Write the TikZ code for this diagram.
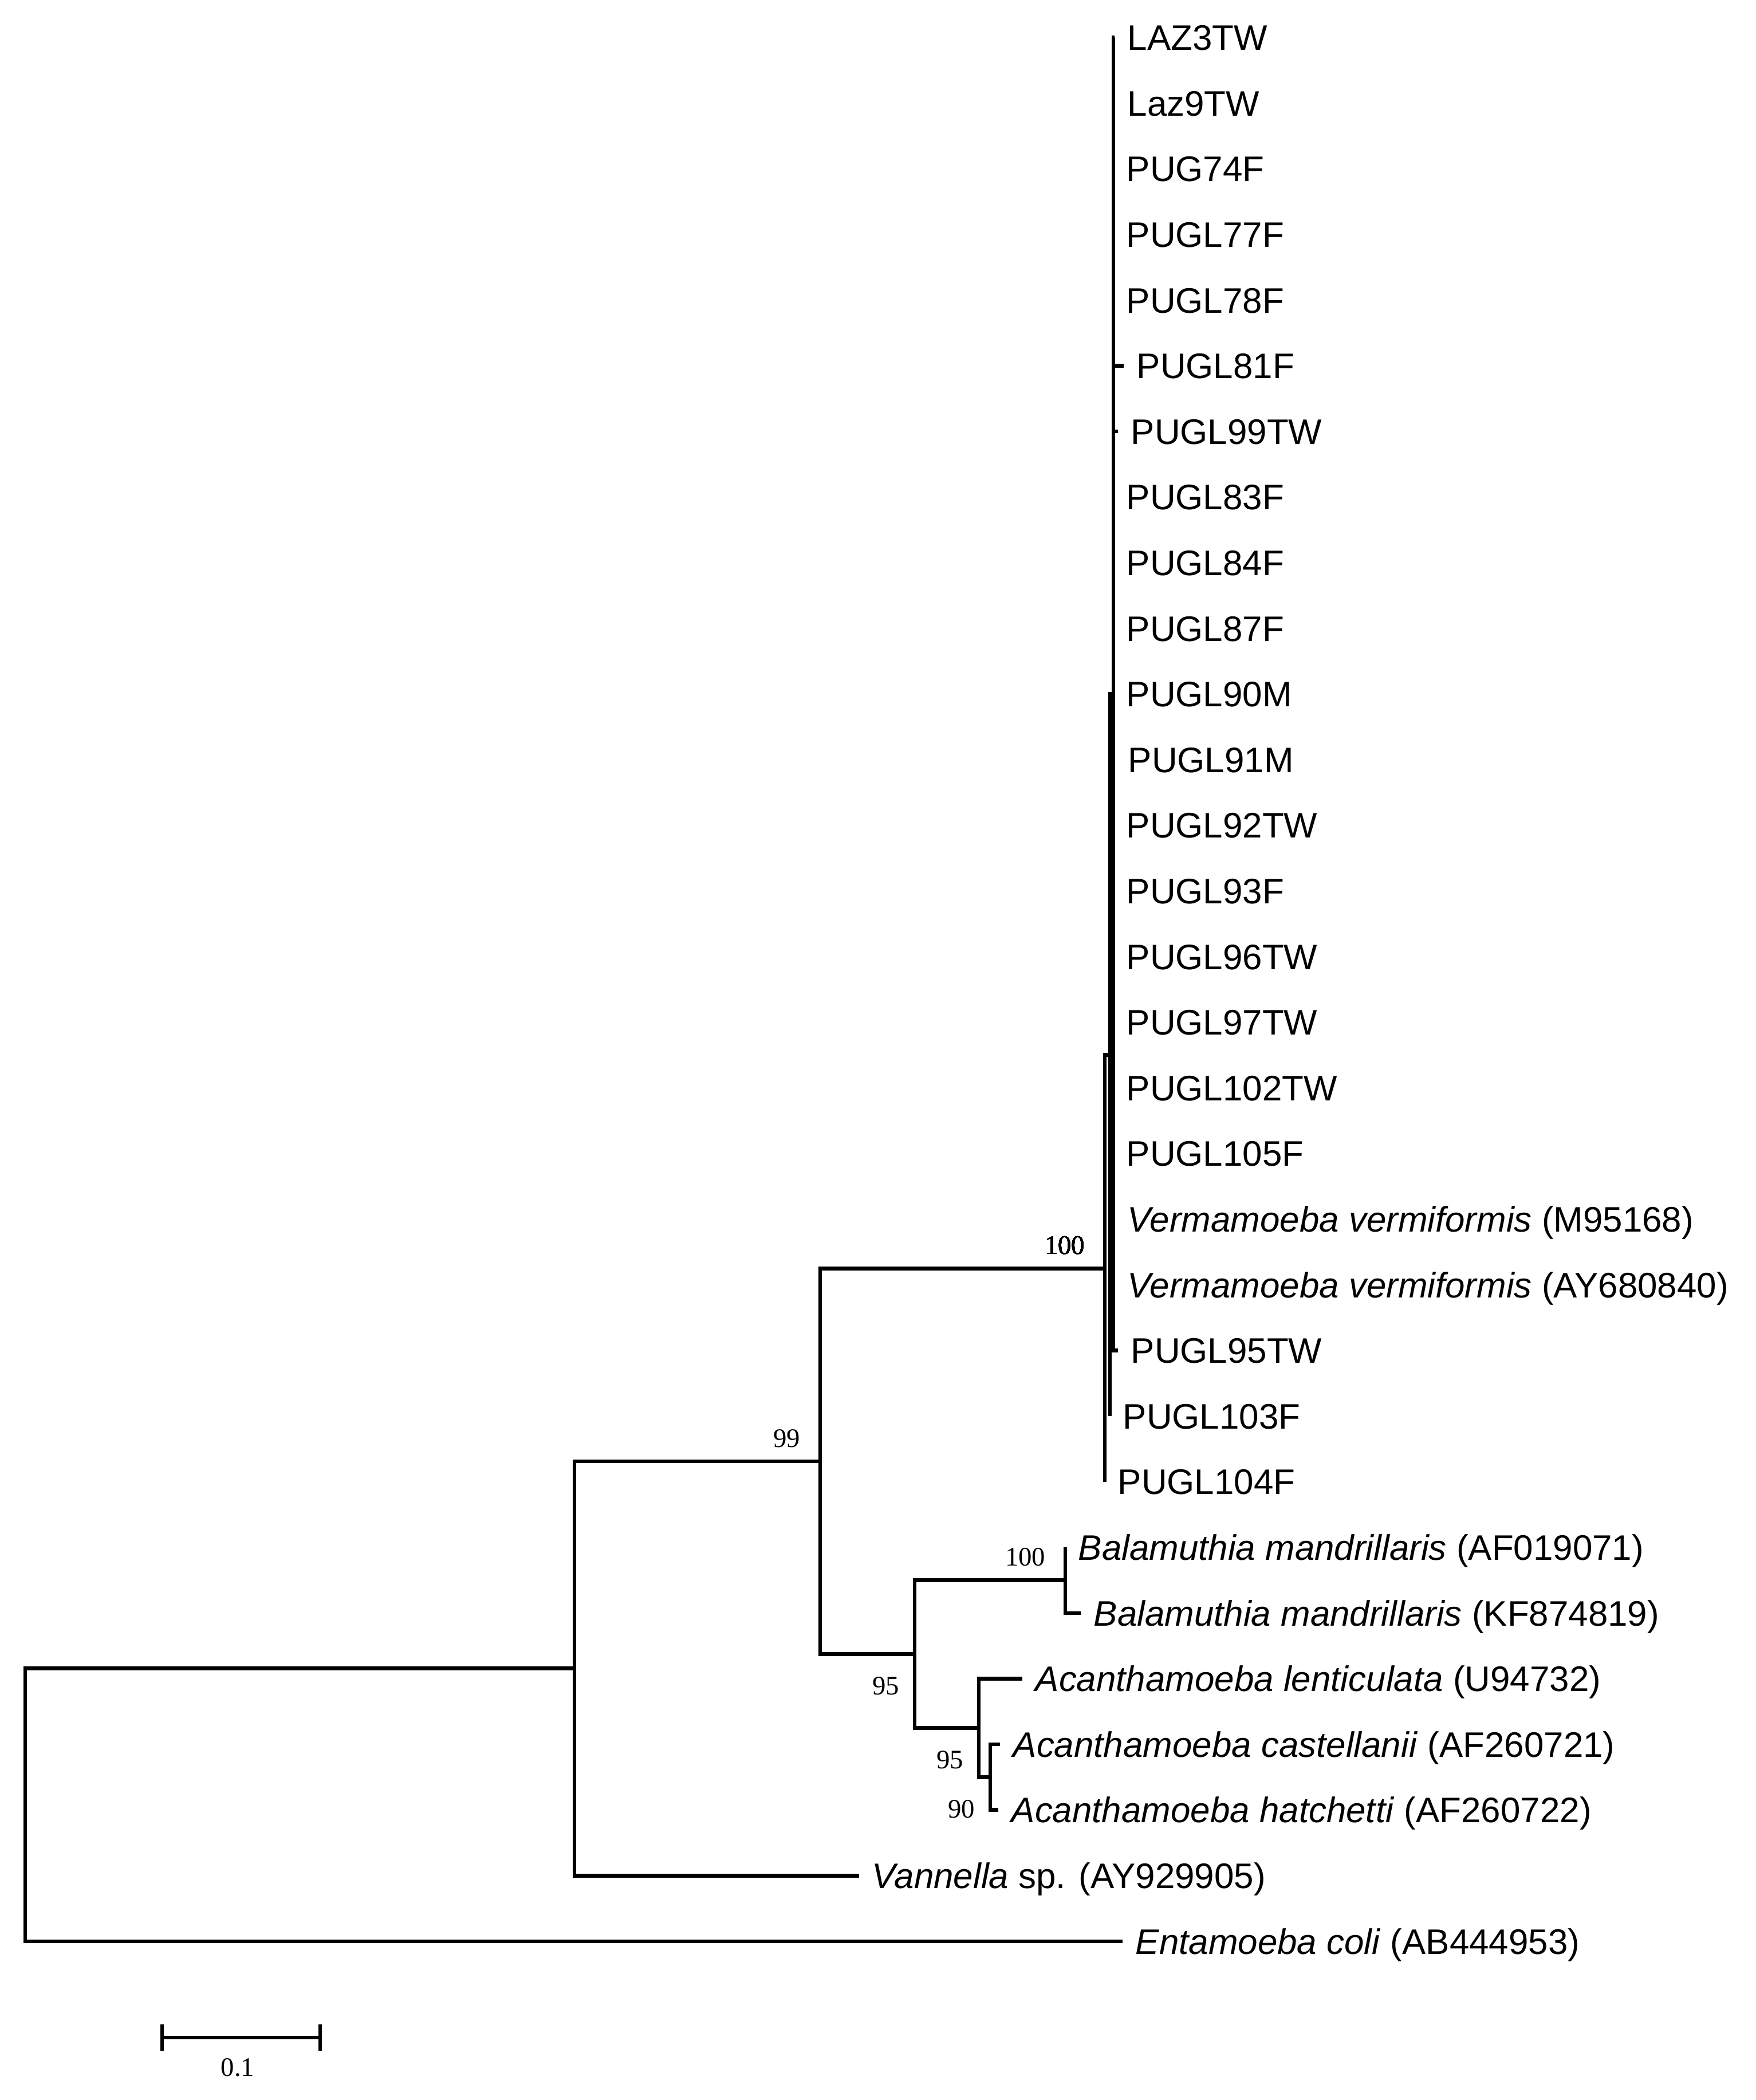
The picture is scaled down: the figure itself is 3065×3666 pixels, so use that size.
\documentclass[tikz,border=0pt]{standalone}
\usepackage{fontspec}
\setmainfont{Liberation Sans}
\newfontfamily\bsfont{Liberation Serif}
\usepackage{tikz}
\tikzset{
  br/.style={line width=1.9pt},
  taxon/.style={anchor=west, inner sep=0pt, xshift=0.22cm, text height=12.6pt, text depth=0pt, font=\fontsize{17.6pt}{21pt}\selectfont},
  bsup/.style={anchor=east, inner sep=0pt, xshift=-0.34cm, yshift=0.40cm, text height=8.6pt, text depth=0pt, font=\bsfont\fontsize{13.3pt}{15pt}\selectfont},
  bsdown/.style={anchor=east, inner sep=0pt, xshift=-0.26cm, yshift=-0.56cm, text height=8.6pt, text depth=0pt, font=\bsfont\fontsize{13.3pt}{15pt}\selectfont}
}
\newcommand{\leaf}[4]{\coordinate (#1) at (#2,{65.5+114.6*#3}); \node[taxon] (#1txt) at (#1) {#4};}
\newcommand{\clade}[2]{\draw[br] (#1) |- (#2);}

\begin{document}
\begin{tikzpicture}[x=0.01cm, y=-0.01cm]
        \useasboundingbox (0,0) rectangle (3065,3666);
        % inner nodes
        \coordinate (nC) at (1944,1211.5);
        \coordinate (nB) at (1938,1841.8);
        \coordinate (nA) at (1929,2214.25);
        \coordinate (nBal) at (1860,2758.6);
        \coordinate (n90) at (1729,3102.4);
        \coordinate (nAC) at (1709,3016.45);
        \coordinate (n95) at (1597,2887.5);
        \coordinate (n99) at (1432,2550.9);
        \coordinate (nV) at (1003,2912.6);
        \coordinate (root) at (44,3150.75);
        % isolates
        \leaf{laz3}{1946}{0}{LAZ3TW}
        \leaf{laz9}{1946}{1}{Laz9TW}
        \leaf{pug74}{1944}{2}{PUG74F}
        \leaf{pugl77}{1944}{3}{PUGL77F}
        \leaf{pugl78}{1944}{4}{PUGL78F}
        \leaf{pugl81}{1962}{5}{PUGL81F}
        \leaf{pugl99}{1952}{6}{PUGL99TW}
        \leaf{pugl83}{1944}{7}{PUGL83F}
        \leaf{pugl84}{1944}{8}{PUGL84F}
        \leaf{pugl87}{1944}{9}{PUGL87F}
        \leaf{pugl90}{1944}{10}{PUGL90M}
        \leaf{pugl91}{1947}{11}{PUGL91M}
        \leaf{pugl92}{1944}{12}{PUGL92TW}
        \leaf{pugl93}{1944}{13}{PUGL93F}
        \leaf{pugl96}{1944}{14}{PUGL96TW}
        \leaf{pugl97}{1944}{15}{PUGL97TW}
        \leaf{pugl102}{1944}{16}{PUGL102TW}
        \leaf{pugl105}{1944}{17}{PUGL105F}
        \leaf{vvM}{1946}{18}{\textit{Vermamoeba vermiformis} (M95168)}
        \leaf{vvAY}{1946}{19}{\textit{Vermamoeba vermiformis} (AY680840)}
        \leaf{pugl95}{1952}{20}{PUGL95TW}
        \leaf{pugl103}{1938}{21}{PUGL103F}
        \leaf{pugl104}{1929}{22}{PUGL104F}
        % references
        \leaf{bmAF}{1860}{23}{\textit{Balamuthia mandrillaris} (AF019071)}
        \leaf{bmKF}{1887}{24}{\textit{Balamuthia mandrillaris} (KF874819)}
        \leaf{alen}{1785}{25}{\textit{Acanthamoeba lenticulata} (U94732)}
        \leaf{acas}{1746}{26}{\textit{Acanthamoeba castellanii} (AF260721)}
        \leaf{ahat}{1743}{27}{\textit{Acanthamoeba hatchetti} (AF260722)}
        \leaf{van}{1500}{28}{\textit{Vannella} sp. (AY929905)}
        \leaf{ecoli}{1960}{29}{\textit{Entamoeba coli} (AB444953)}
        % branches
        \foreach \t in {laz3,laz9,pug74,pugl77,pugl78,pugl81,pugl99,pugl83,pugl84,pugl87,pugl90,pugl91,pugl92,pugl93,pugl96,pugl97,pugl102,pugl105,vvM,vvAY,pugl95}
          \clade{nC}{\t}
        \clade{nB}{nC} \clade{nB}{pugl103}
        \clade{nA}{nB} \clade{nA}{pugl104}
        \clade{nBal}{bmAF} \clade{nBal}{bmKF}
        \clade{n90}{acas} \clade{n90}{ahat}
        \clade{nAC}{alen} \clade{nAC}{n90}
        \clade{n95}{nBal} \clade{n95}{nAC}
        \clade{n99}{nA} \clade{n99}{n95}
        \clade{nV}{n99} \clade{nV}{van}
        \clade{root}{nV} \clade{root}{ecoli}
        % bootstrap
        \node[bsup] (bs100a) at (nA) {100};
        \node[bsup] (bs99) at (n99) {99};
        \node[bsup] (bs100b) at (nBal) {100};
        \node[bsdown] (bs95a) at (n95) {95};
        \node[bsdown] (bs95b) at (nAC) {95};
        \node[bsdown] (bs90) at (n90) {90};
        % scale bar
        \coordinate (sbl) at (283,3557);
        \coordinate (sbr) at (559,3557);
        \draw[br] (sbl) -- (sbr);
        \draw[br] ([yshift=0.23cm]sbl) -- ([yshift=-0.23cm]sbl);
        \draw[br] ([yshift=0.23cm]sbr) -- ([yshift=-0.23cm]sbr);
        \node[font=\bsfont\fontsize{13.3pt}{15pt}\selectfont, inner sep=0pt] (sbtxt) at (415,3609) {0.1};
\end{tikzpicture}
\end{document}
